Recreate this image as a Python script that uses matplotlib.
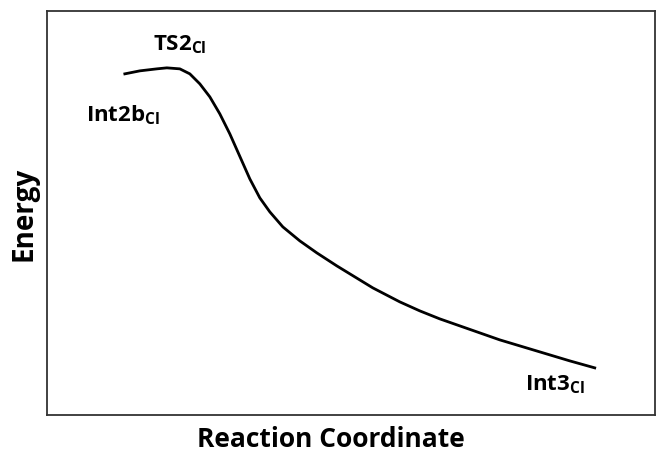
import numpy as np
import matplotlib.pyplot as plt

# 反应坐标与能量 (任意单位)
coord = [78, 93, 110, 120, 133, 143, 153, 163, 173, 183, 195, 203, 213, 223,
         236, 253, 270, 290, 326, 353, 373, 393, 413, 433, 453, 483, 503, 523, 548]
energy = [341, 344, 346, 347, 346, 341, 331, 318, 301, 281, 254, 236, 217, 203,
          188, 174, 162, 149, 127, 113, 104, 96, 89, 82, 75, 66, 60, 54, 47]

plt.rcParams['font.family'] = ['Open Sans', 'DejaVu Sans']

fig = plt.figure(figsize=(6.6, 4.56), dpi=100)
ax = fig.add_axes([0.071, 0.088, 0.921, 0.886])
ax.plot(coord, energy, color="black", lw=2, solid_joinstyle="round")
ax.set_xlim(0, 608)
ax.set_ylim(0, 404)
ax.set_xticks([])
ax.set_yticks([])
for s in ax.spines.values():
    s.set_color("#333333")
    s.set_linewidth(1.3)

ax.text(133, 371, r"TS2$_{\mathregular{Cl}}$", fontsize=16, fontweight="bold", ha="center", va="center")
ax.text(76, 301, r"Int2b$_{\mathregular{Cl}}$", fontsize=16, fontweight="bold", ha="center", va="center")
ax.text(508, 31, r"Int3$_{\mathregular{Cl}}$", fontsize=16, fontweight="bold", ha="center", va="center")

ax.set_xlabel("Reaction Coordinate", fontsize=19, fontweight="bold")
ax.xaxis.set_label_coords(0.467, -0.026, transform=ax.transAxes)
ax.xaxis.label.set_va("top")
ax.set_ylabel("Energy", fontsize=20, fontweight="bold", labelpad=6)

fig.savefig("out.png", dpi=100)
